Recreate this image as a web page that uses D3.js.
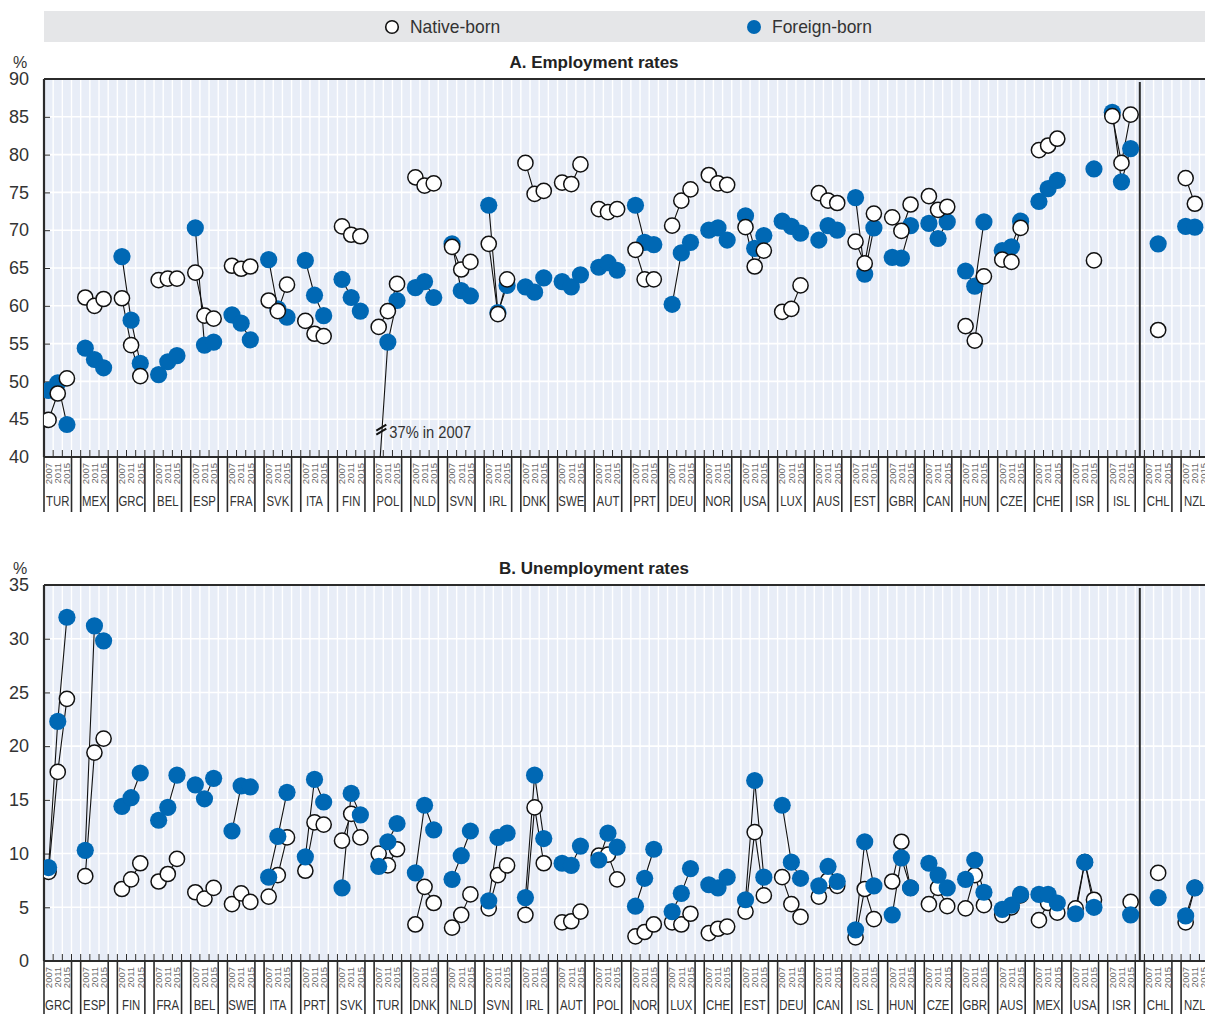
<!DOCTYPE html>
<html><head><meta charset="utf-8">
<script src="https://cdn.jsdelivr.net/npm/d3@7"></script>
<style>
body{margin:0;background:#fff}
svg{display:block;font-family:"Liberation Sans Narrow","Arial Narrow","Liberation Sans",sans-serif}
</style>
</head><body>
<svg id="c" width="1205" height="1014"></svg>
<script>
// ---------- DATA ----------
const years = ["2007","2011","2015"];
const seriesNames = ["Native-born","Foreign-born"];

const countriesA = ["TUR","MEX","GRC","BEL","ESP","FRA","SVK","ITA","FIN","POL","NLD","SVN","IRL","DNK","SWE","AUT","PRT","DEU","NOR","USA","LUX","AUS","EST","GBR","CAN","HUN","CZE","CHE","ISR","ISL","CHL","NZL"];
const empNative = [
  [44.9,48.4,50.4],[61.1,60.0,60.9],[61.0,54.8,50.7],[63.4,63.6,63.6],[64.4,58.7,58.3],
  [65.3,64.9,65.2],[60.7,59.3,62.8],[58.0,56.3,56.0],[70.5,69.4,69.2],[57.2,59.3,62.9],
  [77.0,75.9,76.2],[67.8,64.8,65.8],[68.2,58.9,63.5],[78.9,74.8,75.2],[76.3,76.1,78.7],
  [72.8,72.4,72.8],[67.4,63.5,63.5],[70.6,73.9,75.4],[77.3,76.2,76.0],[70.4,65.2,67.3],
  [59.2,59.6,62.7],[74.9,73.9,73.6],[68.5,65.6,72.2],[71.7,69.9,73.4],[74.5,72.7,73.1],
  [57.3,55.4,63.9],[66.1,65.8,70.3],[80.6,81.2,82.1],[null,null,66.0],[85.1,78.9,85.3],
  [null,56.8,null],[76.9,73.5,null]
];
const empForeign = [
  [48.8,49.8,44.3],[54.4,52.9,51.8],[66.5,58.1,52.4],[50.9,52.6,53.4],[70.3,54.8,55.2],
  [58.8,57.7,55.5],[66.1,59.6,58.5],[66.0,61.4,58.7],[63.5,61.1,59.3],[37.0,55.2,60.7],
  [62.4,63.2,61.1],[68.2,62.0,61.3],[73.3,59.1,62.7],[62.5,61.8,63.7],[63.2,62.5,64.1],
  [65.1,65.7,64.7],[73.3,68.4,68.1],[60.2,67.0,68.4],[70.0,70.3,68.7],[71.9,67.6,69.3],
  [71.2,70.5,69.6],[68.7,70.6,70.0],[74.3,64.2,70.3],[66.4,66.3,70.6],[70.9,68.9,71.1],
  [64.6,62.6,71.1],[67.3,67.8,71.2],[73.8,75.5,76.6],[null,null,78.1],[85.6,76.4,80.8],
  [null,68.2,null],[70.5,70.4,null]
];

const countriesB = ["GRC","ESP","FIN","FRA","BEL","SWE","ITA","PRT","SVK","TUR","DNK","NLD","SVN","IRL","AUT","POL","NOR","LUX","CHE","EST","DEU","CAN","ISL","HUN","CZE","GBR","AUS","MEX","USA","ISR","CHL","NZL"];
const unempNative = [
  [8.3,17.6,24.4],[7.9,19.4,20.7],[6.7,7.6,9.1],[7.4,8.1,9.5],[6.4,5.8,6.8],
  [5.3,6.3,5.5],[6.0,8.0,11.5],[8.4,12.9,12.7],[11.2,13.7,11.5],[10.0,8.9,10.4],
  [3.4,6.9,5.4],[3.1,4.3,6.2],[4.9,8.0,8.9],[4.3,14.3,9.1],[3.6,3.7,4.6],
  [9.8,9.9,7.6],[2.3,2.7,3.4],[3.6,3.4,4.4],[2.6,3.0,3.2],[4.6,12.0,6.1],
  [7.8,5.3,4.1],[6.0,7.5,7.0],[2.2,6.7,3.9],[7.4,11.1,6.8],[5.3,6.8,5.1],
  [4.9,8.0,5.2],[4.3,5.0,6.1],[3.8,5.4,4.5],[4.9,9.2,5.7],[null,null,5.5],
  [null,8.2,null],[3.6,6.8,null]
];
const unempForeign = [
  [8.7,22.3,32.0],[10.3,31.2,29.8],[14.4,15.2,17.5],[13.1,14.3,17.3],[16.4,15.1,17.0],
  [12.1,16.3,16.2],[7.8,11.6,15.7],[9.7,16.9,14.8],[6.8,15.6,13.6],[8.8,11.1,12.8],
  [8.2,14.5,12.2],[7.6,9.8,12.1],[5.6,11.5,11.9],[5.9,17.3,11.4],[9.1,8.9,10.7],
  [9.4,11.9,10.6],[5.1,7.7,10.4],[4.6,6.3,8.6],[7.1,6.8,7.8],[5.7,16.8,7.8],
  [14.5,9.2,7.7],[7.0,8.8,7.4],[2.9,11.1,7.0],[4.3,9.6,6.8],[9.1,8.0,6.8],
  [7.6,9.4,6.4],[4.8,5.2,6.2],[6.2,6.2,5.4],[4.4,9.2,5.0],[null,null,4.3],
  [null,5.9,null],[4.2,6.8,null]
];
const yTicksA = [40,45,50,55,60,65,70,75,80,85,90];
const yTicksB = [0,5,10,15,20,25,30,35];

// ---------- LAYOUT ----------
const W = 1205;
const plotLeft = 44, slotW = 9.17;
const groupW = slotW * 4;
const blue = "#0068b4", ink = "#2b2b2b", bg = "#e8edf7";
const svg = d3.select("#c");

// legend
svg.append("rect").attr("x",plotLeft).attr("y",11).attr("width",W-plotLeft).attr("height",31).attr("fill","#e5e6e8");
const legX = [392, 754];
seriesNames.forEach((n,i)=>{
  svg.append("circle").attr("cx",legX[i]).attr("cy",27).attr("r",i?7:6.3)
    .attr("fill",i?blue:"#fff").attr("stroke",i?"none":"#111").attr("stroke-width",1.6);
  svg.append("text").attr("transform",`translate(${legX[i]+18},33) scale(0.97,1)`).attr("font-size",18).attr("fill","#333").text(n);
});

function panel(cfg){
  const {top,bottom,domain,ticks,countries,native,foreign,title,nativeOnTop,labelBottom,id} = cfg;
  const g = svg.append("g");
  const xG = d3.scaleBand().domain(countries).range([plotLeft, plotLeft + groupW*countries.length]).padding(0);
  const xS = d3.scaleBand().domain(["2007","2011","2015","gap"]).range([0, groupW]).padding(0);
  const cx = (c,yr)=> xG(c) + xS(yr) + xS.bandwidth()/2;
  const y = d3.scaleLinear().domain(domain).range([bottom, top]);

  g.append("rect").attr("x",plotLeft).attr("y",top).attr("width",W-plotLeft).attr("height",bottom-top).attr("fill",bg);
  const bounds = [];
  countries.forEach(c=>["2007","2011","2015","gap"].forEach(s=>bounds.push(xG(c)+xS(s))));
  g.append("g").selectAll("line").data(bounds.slice(1)).join("line")
    .attr("x1",d=>d).attr("x2",d=>d).attr("y1",top).attr("y2",bottom)
    .attr("stroke","#fff").attr("stroke-width",1.4);
  g.append("g").selectAll("line").data(ticks.slice(1,-1)).join("line")
    .attr("x1",plotLeft).attr("x2",W).attr("y1",d=>y(d)).attr("y2",d=>y(d))
    .attr("stroke","#fff").attr("stroke-width",1.6);

  const ya = d3.axisLeft(y).tickValues(ticks).tickSize(-6).tickPadding(14);
  const yg = g.append("g").attr("transform",`translate(${plotLeft},0)`).call(ya);
  yg.select(".domain").remove();
  yg.selectAll(".tick line").attr("stroke",ink).attr("stroke-width",1);
  yg.selectAll(".tick text").attr("font-size",18).attr("fill","#333").attr("font-family",null).attr("x",-15);
  g.append("text").attr("x",20).attr("y",top-11).attr("text-anchor","middle").attr("font-size",16).attr("fill","#333").text("%");

  g.append("line").attr("x1",plotLeft).attr("x2",W).attr("y1",top).attr("y2",top).attr("stroke",ink).attr("stroke-width",2.2);
  g.append("line").attr("x1",plotLeft).attr("x2",plotLeft).attr("y1",top).attr("y2",bottom).attr("stroke",ink).attr("stroke-width",2.2);
  g.append("line").attr("x1",plotLeft).attr("x2",W).attr("y1",bottom).attr("y2",bottom).attr("stroke",ink).attr("stroke-width",2.2);
  g.append("g").selectAll("line").data(bounds.slice(1)).join("line")
    .attr("x1",d=>d).attr("x2",d=>d).attr("y1",bottom-7).attr("y2",bottom)
    .attr("stroke",ink).attr("stroke-width",1);

  const sepX = cx(countries[29],"gap");
  g.append("line").attr("x1",sepX).attr("x2",sepX).attr("y1",top+3).attr("y2",bottom).attr("stroke",ink).attr("stroke-width",2);

  const lab = g.append("g");
  countries.forEach(c=>{
    const x0 = xG(c), x1 = xG(c)+xS("gap");
    [x0,x1].forEach(xx=>lab.append("line").attr("x1",xx).attr("x2",xx).attr("y1",bottom).attr("y2",labelBottom).attr("stroke",ink).attr("stroke-width",1.6));
    years.forEach(yr=>{
      lab.append("text").attr("transform",`translate(${cx(c,yr)+3.3},${bottom+6}) rotate(-90)`)
        .attr("text-anchor","end").attr("font-size",9.5).attr("fill","#666").text(yr);
    });
    lab.append("text").attr("transform",`translate(${(x0+x1)/2},${bottom+49}) scale(0.76,1)`).attr("text-anchor","middle")
      .attr("font-size",15).attr("fill","#333").text(c);
  });

  g.append("text").attr("x",594).attr("y",top-11).attr("text-anchor","middle").attr("font-size",17)
    .attr("font-weight","bold").attr("fill","#222").text(title);

  svg.append("clipPath").attr("id",id).append("rect").attr("x",plotLeft).attr("y",top).attr("width",W-plotLeft).attr("height",bottom-top);
  const pg = g.append("g").attr("clip-path",`url(#${id})`);

  const mk = (vals)=> countries.map((c,i)=> years.map((yr,j)=>({c,yr,v:vals[i][j]})).filter(d=>d.v!=null));
  const nat = mk(native), frn = mk(foreign);
  const line = d3.line().x(d=>cx(d.c,d.yr)).y(d=>y(d.v));
  [nat,frn].forEach(set=>{
    pg.append("g").selectAll("path").data(set.filter(s=>s.length>1)).join("path")
      .attr("d",line).attr("fill","none").attr("stroke","#111").attr("stroke-width",1.1);
  });
  const drawN = ()=> pg.append("g").selectAll("circle").data(nat.flat()).join("circle")
      .attr("cx",d=>cx(d.c,d.yr)).attr("cy",d=>y(d.v)).attr("r",7.6)
      .attr("fill","#fff").attr("stroke","#111").attr("stroke-width",1.5);
  const drawF = ()=> pg.append("g").selectAll("circle").data(frn.flat()).join("circle")
      .attr("cx",d=>cx(d.c,d.yr)).attr("cy",d=>y(d.v)).attr("r",8.6).attr("fill",blue);
  if(nativeOnTop){drawF();drawN();}else{drawN();drawF();}

  return {y,cx,g,frn};
}

const A = panel({id:"clipA",top:79,bottom:457,domain:[40,90],ticks:yTicksA,countries:countriesA,
  native:empNative,foreign:empForeign,title:"A. Employment rates",nativeOnTop:true,labelBottom:512});
panel({id:"clipB",top:585,bottom:961,domain:[0,35],ticks:yTicksB,countries:countriesB,
  native:unempNative,foreign:unempForeign,title:"B. Unemployment rates",nativeOnTop:false,labelBottom:1014});

// off-scale annotation (POL foreign-born 2007)
const off = A.frn.flat().find(d=>d.v < 40);
const ox = A.cx(off.c, off.yr) + 2.6, oy = A.y(43.5);
[-3,1].forEach(dy=>{
  A.g.append("line").attr("x1",ox-5).attr("x2",ox+5).attr("y1",oy+dy+3).attr("y2",oy+dy-3)
    .attr("stroke","#111").attr("stroke-width",2);
});
A.g.append("text").attr("transform",`translate(${ox+8},${oy+7}) scale(0.92,1)`).attr("font-size",16).attr("fill","#333")
  .text(`${off.v}% in ${off.yr}`);
</script>
</body></html>
